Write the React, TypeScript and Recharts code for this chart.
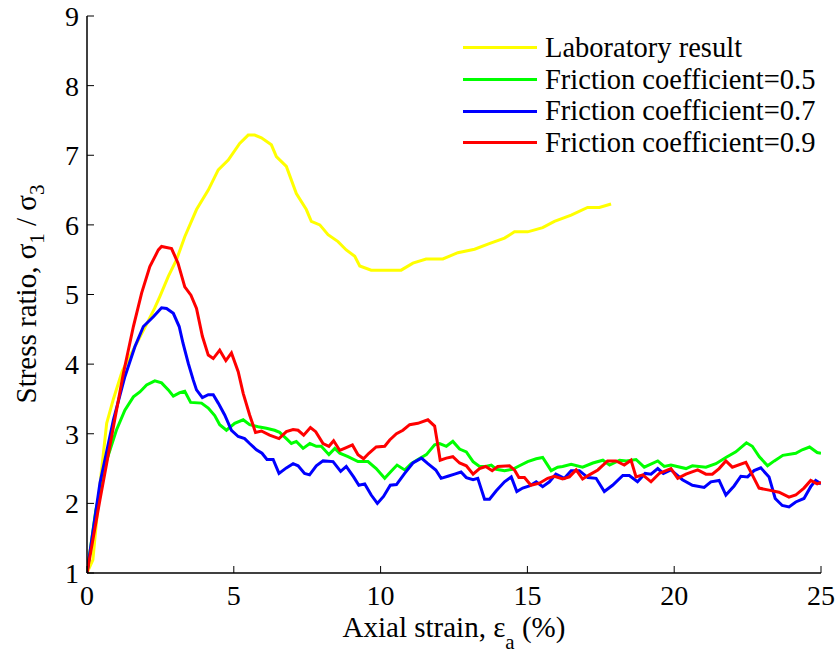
import React from "react";
import { LineChart, Line, XAxis, YAxis, Legend } from "recharts";

// laboratory triaxial test
const labStrain = [0, 0.2, 0.45, 0.67, 0.9, 1.2, 1.63, 2.0, 2.3, 2.48, 2.77, 3.05, 3.33, 3.73, 4.13, 4.47, 4.81, 5.2, 5.49, 5.71, 5.94, 6.28, 6.45, 6.79, 7.13, 7.47, 7.64, 7.93, 8.21, 8.55, 8.83, 9.12, 9.29, 9.68, 10.7, 11.1, 11.55, 12.12, 12.63, 13.2, 13.7, 14.22, 14.56, 15.01, 15.52, 15.92, 16.49, 17.05, 17.45, 17.85];
const labRatio = [1, 1.19, 2.3, 3.15, 3.5, 3.9, 4.25, 4.55, 4.8, 4.97, 5.26, 5.5, 5.83, 6.22, 6.5, 6.79, 6.93, 7.17, 7.29, 7.29, 7.25, 7.15, 6.98, 6.84, 6.45, 6.22, 6.05, 6.0, 5.86, 5.76, 5.64, 5.55, 5.41, 5.35, 5.35, 5.45, 5.51, 5.51, 5.6, 5.65, 5.73, 5.81, 5.9, 5.9, 5.96, 6.05, 6.14, 6.25, 6.25, 6.3];

// friction coefficient 0.5
const fc05Strain = [0, 0.3, 0.67, 1.0, 1.29, 1.58, 1.8, 2.03, 2.31, 2.54, 2.77, 2.94, 3.16, 3.33, 3.53, 3.9, 4.13, 4.35, 4.52, 4.75, 5.03, 5.32, 5.54, 5.83, 6.11, 6.39, 6.56, 6.79, 6.96, 7.13, 7.36, 7.59, 7.81, 7.98, 8.24, 8.44, 8.61, 8.89, 9.23, 9.57, 9.85, 10.14, 10.36, 10.56, 10.82, 11.04, 11.27, 11.56, 11.84, 12.01, 12.24, 12.46, 12.69, 12.92, 13.15, 13.37, 13.58, 13.77, 13.94, 14.22, 14.5, 14.73, 15.01, 15.3, 15.52, 15.81, 16.03, 16.2, 16.49, 16.88, 17.23, 17.57, 17.8, 18.14, 18.37, 18.7, 18.98, 19.44, 19.66, 19.89, 20.4, 20.62, 21.08, 21.42, 21.76, 22.1, 22.46, 22.66, 22.9, 23.18, 23.41, 23.7, 24.14, 24.36, 24.61, 24.87, 25];
const fc05Ratio = [1, 1.9, 2.62, 3.05, 3.34, 3.53, 3.6, 3.7, 3.76, 3.73, 3.63, 3.54, 3.59, 3.61, 3.45, 3.44, 3.37, 3.26, 3.13, 3.05, 3.15, 3.2, 3.13, 3.1, 3.08, 3.05, 3.02, 2.93, 2.86, 2.89, 2.79, 2.86, 2.82, 2.82, 2.7, 2.79, 2.72, 2.67, 2.6, 2.6, 2.5, 2.36, 2.46, 2.55, 2.48, 2.57, 2.63, 2.7, 2.84, 2.86, 2.82, 2.89, 2.78, 2.74, 2.6, 2.53, 2.53, 2.55, 2.49, 2.47, 2.49, 2.54, 2.6, 2.64, 2.66, 2.47, 2.52, 2.53, 2.56, 2.52, 2.58, 2.62, 2.55, 2.62, 2.61, 2.63, 2.52, 2.61, 2.53, 2.55, 2.5, 2.54, 2.52, 2.57, 2.66, 2.74, 2.87, 2.82, 2.67, 2.54, 2.61, 2.69, 2.72, 2.77, 2.81, 2.73, 2.72];

// friction coefficient 0.7
const fc07Strain = [0, 0.44, 0.9, 1.29, 1.63, 1.92, 2.26, 2.54, 2.71, 2.94, 3.14, 3.27, 3.45, 3.62, 3.73, 3.93, 4.13, 4.3, 4.47, 4.69, 4.92, 5.15, 5.37, 5.54, 5.77, 5.96, 6.13, 6.34, 6.54, 6.79, 7.02, 7.19, 7.41, 7.58, 7.81, 8.04, 8.38, 8.64, 8.83, 9.08, 9.26, 9.46, 9.68, 9.89, 10.1, 10.33, 10.54, 10.82, 11.1, 11.39, 11.61, 11.88, 12.06, 12.29, 12.52, 12.74, 12.92, 13.15, 13.31, 13.54, 13.71, 13.94, 14.22, 14.45, 14.64, 14.84, 15.07, 15.3, 15.52, 15.75, 15.97, 16.26, 16.49, 16.77, 17.06, 17.34, 17.62, 17.9, 18.25, 18.47, 18.75, 19.01, 19.21, 19.44, 19.63, 19.89, 20.28, 20.62, 21.02, 21.25, 21.53, 21.76, 22.04, 22.27, 22.5, 22.72, 22.95, 23.23, 23.44, 23.68, 23.91, 24.14, 24.42, 24.65, 24.82, 25];
const fc07Ratio = [1, 2.29, 3.2, 3.82, 4.25, 4.54, 4.68, 4.81, 4.8, 4.73, 4.54, 4.3, 4.01, 3.77, 3.63, 3.52, 3.56, 3.56, 3.44, 3.27, 3.05, 2.96, 2.93, 2.86, 2.77, 2.72, 2.63, 2.63, 2.43, 2.51, 2.57, 2.54, 2.43, 2.41, 2.54, 2.61, 2.6, 2.46, 2.53, 2.38, 2.26, 2.28, 2.12, 2.0, 2.1, 2.26, 2.27, 2.43, 2.58, 2.65, 2.57, 2.48, 2.36, 2.39, 2.42, 2.45, 2.37, 2.34, 2.36, 2.06, 2.06, 2.18, 2.31, 2.38, 2.17, 2.22, 2.25, 2.31, 2.24, 2.31, 2.42, 2.36, 2.47, 2.47, 2.37, 2.36, 2.17, 2.26, 2.4, 2.4, 2.31, 2.43, 2.42, 2.5, 2.43, 2.48, 2.34, 2.26, 2.23, 2.31, 2.33, 2.12, 2.25, 2.39, 2.38, 2.47, 2.51, 2.38, 2.07, 1.97, 1.95, 2.02, 2.07, 2.24, 2.33, 2.28];

// friction coefficient 0.9
const fc09Strain = [0, 0.44, 0.9, 1.24, 1.58, 1.86, 2.14, 2.43, 2.54, 2.88, 3.1, 3.33, 3.54, 3.73, 3.93, 4.13, 4.3, 4.52, 4.73, 4.92, 5.15, 5.32, 5.54, 5.74, 5.94, 6.22, 6.54, 6.79, 7.02, 7.19, 7.38, 7.61, 7.79, 8.04, 8.24, 8.4, 8.61, 8.83, 9.04, 9.23, 9.42, 9.6, 9.85, 10.14, 10.31, 10.54, 10.76, 10.99, 11.27, 11.61, 11.84, 11.92, 12.03, 12.24, 12.46, 12.69, 12.92, 13.15, 13.37, 13.58, 13.8, 13.99, 14.39, 14.56, 14.71, 14.9, 15.12, 15.41, 15.69, 15.92, 16.2, 16.43, 16.66, 16.88, 17.11, 17.4, 17.73, 18.02, 18.3, 18.53, 18.7, 18.93, 19.21, 19.49, 19.89, 20.12, 20.4, 20.8, 21.08, 21.3, 21.53, 21.76, 21.98, 22.44, 22.66, 22.89, 23.23, 23.57, 23.91, 24.14, 24.42, 24.65, 24.87, 25];
const fc09Ratio = [1, 2.05, 3.1, 3.87, 4.54, 5.02, 5.4, 5.64, 5.69, 5.66, 5.45, 5.11, 4.99, 4.8, 4.4, 4.13, 4.08, 4.2, 4.05, 4.16, 3.89, 3.58, 3.27, 3.02, 3.04, 2.98, 2.93, 3.03, 3.06, 3.05, 2.98, 3.09, 3.03, 2.86, 2.82, 2.9, 2.76, 2.8, 2.84, 2.7, 2.64, 2.72, 2.81, 2.82, 2.91, 3.0, 3.05, 3.13, 3.15, 3.2, 3.11, 2.91, 2.62, 2.65, 2.67, 2.58, 2.54, 2.42, 2.5, 2.53, 2.47, 2.53, 2.54, 2.48, 2.37, 2.37, 2.26, 2.29, 2.36, 2.39, 2.35, 2.38, 2.48, 2.35, 2.41, 2.48, 2.61, 2.61, 2.55, 2.62, 2.38, 2.41, 2.31, 2.43, 2.5, 2.36, 2.42, 2.48, 2.42, 2.42, 2.5, 2.61, 2.52, 2.59, 2.41, 2.22, 2.19, 2.16, 2.09, 2.12, 2.22, 2.33, 2.28, 2.3];

const seriesNames = [
  "Laboratory result",
  "Friction coefficient=0.5",
  "Friction coefficient=0.7",
  "Friction coefficient=0.9",
];
const seriesColors = ["#ffff00", "#00ff00", "#0000ff", "#ff0000"];

const xTicks = [0, 5, 10, 15, 20, 25];
const yTicks = [1, 2, 3, 4, 5, 6, 7, 8, 9];

const font = "'Liberation Serif', 'Times New Roman', serif";

function toPoints(strain: number[], ratio: number[]) {
  return strain.map((s, i) => ({ strain: s, ratio: ratio[i] }));
}

const series = [
  toPoints(labStrain, labRatio),
  toPoints(fc05Strain, fc05Ratio),
  toPoints(fc07Strain, fc07Ratio),
  toPoints(fc09Strain, fc09Ratio),
];

const axisLine = { stroke: "#000", strokeWidth: 1.5 };
const tickLine = { stroke: "#000", strokeWidth: 1 };
const tickStyle = { fill: "#000", fontSize: 28, fontFamily: font };

function XTitle(props: any) {
  const vb = props.viewBox || {};
  const cx = (vb.x ?? 87) + (vb.width ?? 735) / 2;
  return (
    <text x={cx} y={637} textAnchor="middle" fontFamily={font} fontSize={29} fill="#000">
      Axial strain, ε
      <tspan dy={12} fontSize={21}>a</tspan>
      <tspan dy={-12}> (%)</tspan>
    </text>
  );
}

function YTitle() {
  const x = 36;
  const y = 294;
  return (
    <text
      x={x}
      y={y}
      transform={`rotate(-90, ${x}, ${y})`}
      textAnchor="middle"
      fontFamily={font}
      fontSize={29}
      fill="#000"
    >
      Stress ratio, σ
      <tspan dy={8} fontSize={21}>1</tspan>
      <tspan dy={-8}> / σ</tspan>
      <tspan dy={8} fontSize={21}>3</tspan>
    </text>
  );
}

function ChartLegend() {
  return (
    <div style={{ fontFamily: font, fontSize: 28.5, color: "#000" }}>
      {seriesNames.map((name, i) => (
        <div key={name} style={{ display: "flex", alignItems: "center", height: 31.7 }}>
          <span style={{ width: 74, height: 3, background: seriesColors[i], marginRight: 8 }} />
          <span style={{ lineHeight: "31.7px", whiteSpace: "nowrap" }}>{name}</span>
        </div>
      ))}
    </div>
  );
}

export default function App() {
  return (
    <div style={{ position: "absolute", left: 0, top: 0, width: 837, height: 655, background: "#fff", fontFamily: font }}>
      <LineChart width={837} height={655} margin={{ top: 16, right: 16, bottom: 0, left: 0 }}>
        <XAxis
          dataKey="strain"
          type="number"
          domain={[0, 25]}
          ticks={xTicks}
          interval={0}
          allowDataOverflow
          height={82}
          tickSize={-7}
          tickMargin={19}
          axisLine={axisLine}
          tickLine={tickLine}
          tick={tickStyle}
          label={(p: any) => <XTitle {...p} />}
        />
        <XAxis
          xAxisId="top"
          orientation="top"
          type="number"
          domain={[0, 25]}
          ticks={xTicks}
          interval={0}
          height={0}
          tickSize={-7}
          axisLine={axisLine}
          tickLine={tickLine}
          tick={false}
        />
        <YAxis
          type="number"
          domain={[1, 9]}
          ticks={yTicks}
          interval={0}
          allowDataOverflow
          width={87}
          tickSize={-7}
          tickMargin={15}
          axisLine={axisLine}
          tickLine={tickLine}
          tick={tickStyle}
          label={() => <YTitle />}
        />
        <YAxis
          yAxisId="right"
          orientation="right"
          type="number"
          domain={[1, 9]}
          ticks={yTicks}
          interval={0}
          width={0}
          tickSize={-7}
          axisLine={axisLine}
          tickLine={tickLine}
          tick={false}
        />
        <Legend
          layout="vertical"
          align="center"
          verticalAlign="middle"
          content={() => <ChartLegend />}
          wrapperStyle={{ left: 463, top: 32, width: "auto" }}
        />
        {series.map((data, i) => (
          <Line
            key={seriesNames[i]}
            data={data}
            dataKey="ratio"
            name={seriesNames[i]}
            type="linear"
            stroke={seriesColors[i]}
            strokeWidth={3}
            dot={false}
            activeDot={false}
            isAnimationActive={false}
          />
        ))}
      </LineChart>
    </div>
  );
}
